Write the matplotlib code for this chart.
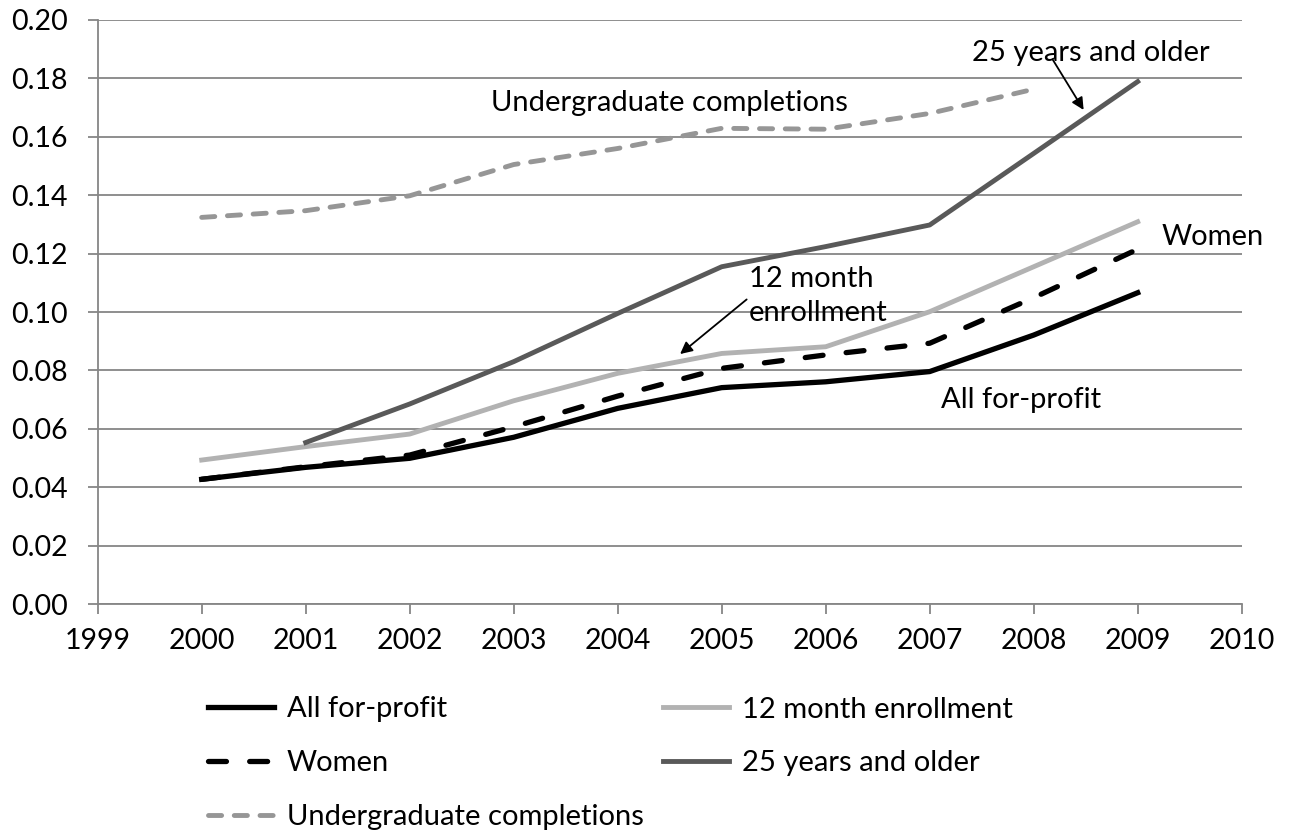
import numpy as np
import matplotlib.pyplot as plt

years = [2000, 2001, 2002, 2003, 2004, 2005, 2006, 2007, 2008, 2009]
all_forprofit = [0.0427, 0.0468, 0.0499, 0.0571, 0.0670, 0.0741, 0.0761, 0.0796, 0.0921, 0.1066]
enroll_12m = [0.0493, 0.0539, 0.0582, 0.0696, 0.0790, 0.0858, 0.0881, 0.1001, 0.1155, 0.1309]
women = [0.0427, 0.0470, 0.0510, 0.0607, 0.0712, 0.0807, 0.0853, 0.0893, 0.1049, 0.1215]
years_25 = [2001, 2002, 2003, 2004, 2005, 2006, 2007, 2008, 2009]
older_25 = [0.0553, 0.0685, 0.0830, 0.0995, 0.1155, 0.1224, 0.1298, 0.1543, 0.1789]
years_ug = [2000, 2001, 2002, 2003, 2004, 2005, 2006, 2007, 2008]
undergrad = [0.1324, 0.1347, 0.1398, 0.1505, 0.1560, 0.1629, 0.1626, 0.1680, 0.1763]

yticks = np.arange(0, 0.201, 0.02)
xticks = np.arange(1999, 2011)

plt.rcParams['font.family'] = ['Lato', 'DejaVu Sans']

fig = plt.figure(figsize=(12.89, 8.33), dpi=100)
ax = fig.add_axes([0.0758, 0.2749, 0.8875, 0.7011])

lw = 3.5
l1, = ax.plot(years, all_forprofit, color='black', lw=3.8, label='All for-profit')
l2, = ax.plot(years, enroll_12m, color='#b2b2b2', lw=lw, label='12 month enrollment')
l3, = ax.plot(years, women, color='black', lw=3.8, ls=(0, (3.4, 4.4)),
              dash_capstyle='round', label='Women')
l4, = ax.plot(years_25, older_25, color='#595959', lw=lw, label='25 years and older')
l5, = ax.plot(years_ug, undergrad, color='#969696', lw=lw, ls=(0, (2.7, 2.6)),
              dash_capstyle='round', label='Undergraduate completions')

ax.set_xlim(1999, 2010)
ax.set_ylim(0, 0.20)
ax.set_xticks(xticks)
ax.set_yticks(yticks)
ax.set_yticklabels(['%.2f' % v for v in yticks])
ax.tick_params(axis='both', labelsize=20.5, color='#868686', length=7.5, width=1.3,
               direction='out')
ax.tick_params(axis='y', pad=14)
ax.tick_params(axis='x', pad=10)
ax.grid(axis='y', color='#868686', lw=1.3)
ax.set_axisbelow(True)
for s in ['top', 'right']:
    ax.spines[s].set_visible(False)
for s in ['left', 'bottom']:
    ax.spines[s].set_color('#868686')
    ax.spines[s].set_linewidth(1.3)

fs = 21
arrow = dict(arrowstyle='-|>', color='black', lw=1.3, mutation_scale=18,
             shrinkA=0, shrinkB=0)
ax.text(2006.21, 0.1716, 'Undergraduate completions', fontsize=fs, ha='right', va='center')
ax.text(2007.41, 0.1887, '25 years and older', fontsize=fs, ha='left', va='center')
ax.annotate('', xy=(2008.48, 0.1692), xytext=(2008.18, 0.1866), arrowprops=arrow)
ax.text(2009.23, 0.1257, 'Women', fontsize=fs, ha='left', va='center')
ax.text(2005.26, 0.1055, '12 month\nenrollment', fontsize=fs, ha='left', va='center',
        linespacing=1.4)
ax.annotate('', xy=(2004.60, 0.0856), xytext=(2005.24, 0.1043), arrowprops=arrow)
ax.text(2007.11, 0.0699, 'All for-profit', fontsize=fs, ha='left', va='center')

legkw = dict(frameon=False, fontsize=fs, handlelength=2.25, handletextpad=0.45,
             borderpad=0, borderaxespad=0, labelspacing=0.95, loc='center left')
fig.legend(handles=[l1, l3, l5], bbox_to_anchor=(208 / 1289, (833 - 763) / 833), **legkw)
fig.legend(handles=[l2, l4], bbox_to_anchor=(663 / 1289, (833 - 736.5) / 833), **legkw)

fig.savefig('out.png', dpi=100)
